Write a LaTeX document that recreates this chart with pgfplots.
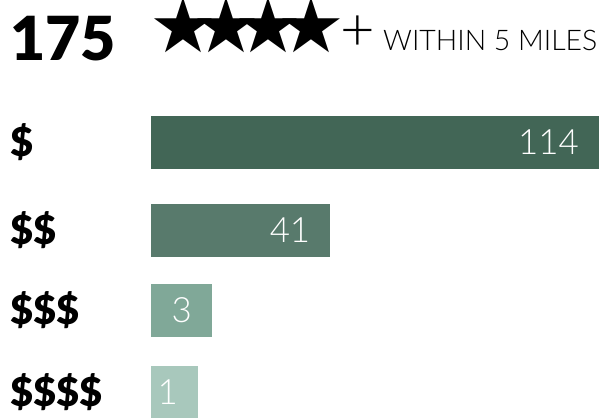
\documentclass[border=0pt]{standalone}
\usepackage{pgfplots}
\pgfplotsset{compat=1.18}
\usepackage{fontspec}
\setmainfont{Lato}
\newfontfamily\latoblack{Lato Black}
\newfontfamily\latolight{Lato Light}
\newfontfamily\dejavu{DejaVu Sans}
\definecolor{c1}{HTML}{426656}
\definecolor{c2}{HTML}{587A6C}
\definecolor{c3}{HTML}{80A898}
\definecolor{c4}{HTML}{A8C8BC}
\begin{document}
\begin{tikzpicture}[x=1bp,y=1bp]
\path[use as bounding box] (0,0) rectangle (600,417);
\node[anchor=base west, inner sep=0] at (10,357) {\latoblack\fontsize{61}{61}\selectfont 175};
\node[anchor=base west, inner sep=0] at (149,365) {\dejavu\fontsize{76}{76}\selectfont\smash{★\kern-25bp★\kern-25bp★\kern-25bp★}\kern-22bp};
\node[anchor=base west, inner sep=0] at (340,367) {\latolight\fontsize{60}{60}\selectfont +};
\node[anchor=base west, inner sep=0] at (383,367) {\latolight\fontsize{28.5}{28.5}\selectfont WITHIN 5 MILES};
\begin{axis}[at={(151bp,0bp)}, anchor=south west, scale only axis,
  width=448bp, height=417bp, xmin=0, xmax=114, ymin=-142.5, ymax=274.5,
  y dir=reverse, clip=false,
  axis x line=none, axis y line*=left, y axis line style={draw=none},
  ytick={0,88,168,250}, yticklabels={\$,\$\$,\$\$\$,\$\$\$\$}, major tick length=0pt,
  yticklabel style={anchor=west, xshift=-141bp, inner sep=0pt, font=\latoblack\fontsize{40}{40}\selectfont},
  xbar, bar width=53bp, bar shift=0pt,
  nodes near coords, point meta=explicit symbolic,
  every node near coord/.append style={anchor=east, xshift=-20bp, text=white, inner sep=0pt, font=\latolight\fontsize{35}{35}\selectfont}]
% (drawn length, row position) [count]
\addplot[draw=none, fill=c1] coordinates {(114,0) [114]};
\addplot[draw=none, fill=c2] coordinates {(45.65,88) [41]};
\addplot[draw=none, fill=c3] coordinates {(15.56,168) [3]};
\addplot[draw=none, fill=c4] coordinates {(12.0,250) [1]};
\end{axis}
\end{tikzpicture}
\end{document}
